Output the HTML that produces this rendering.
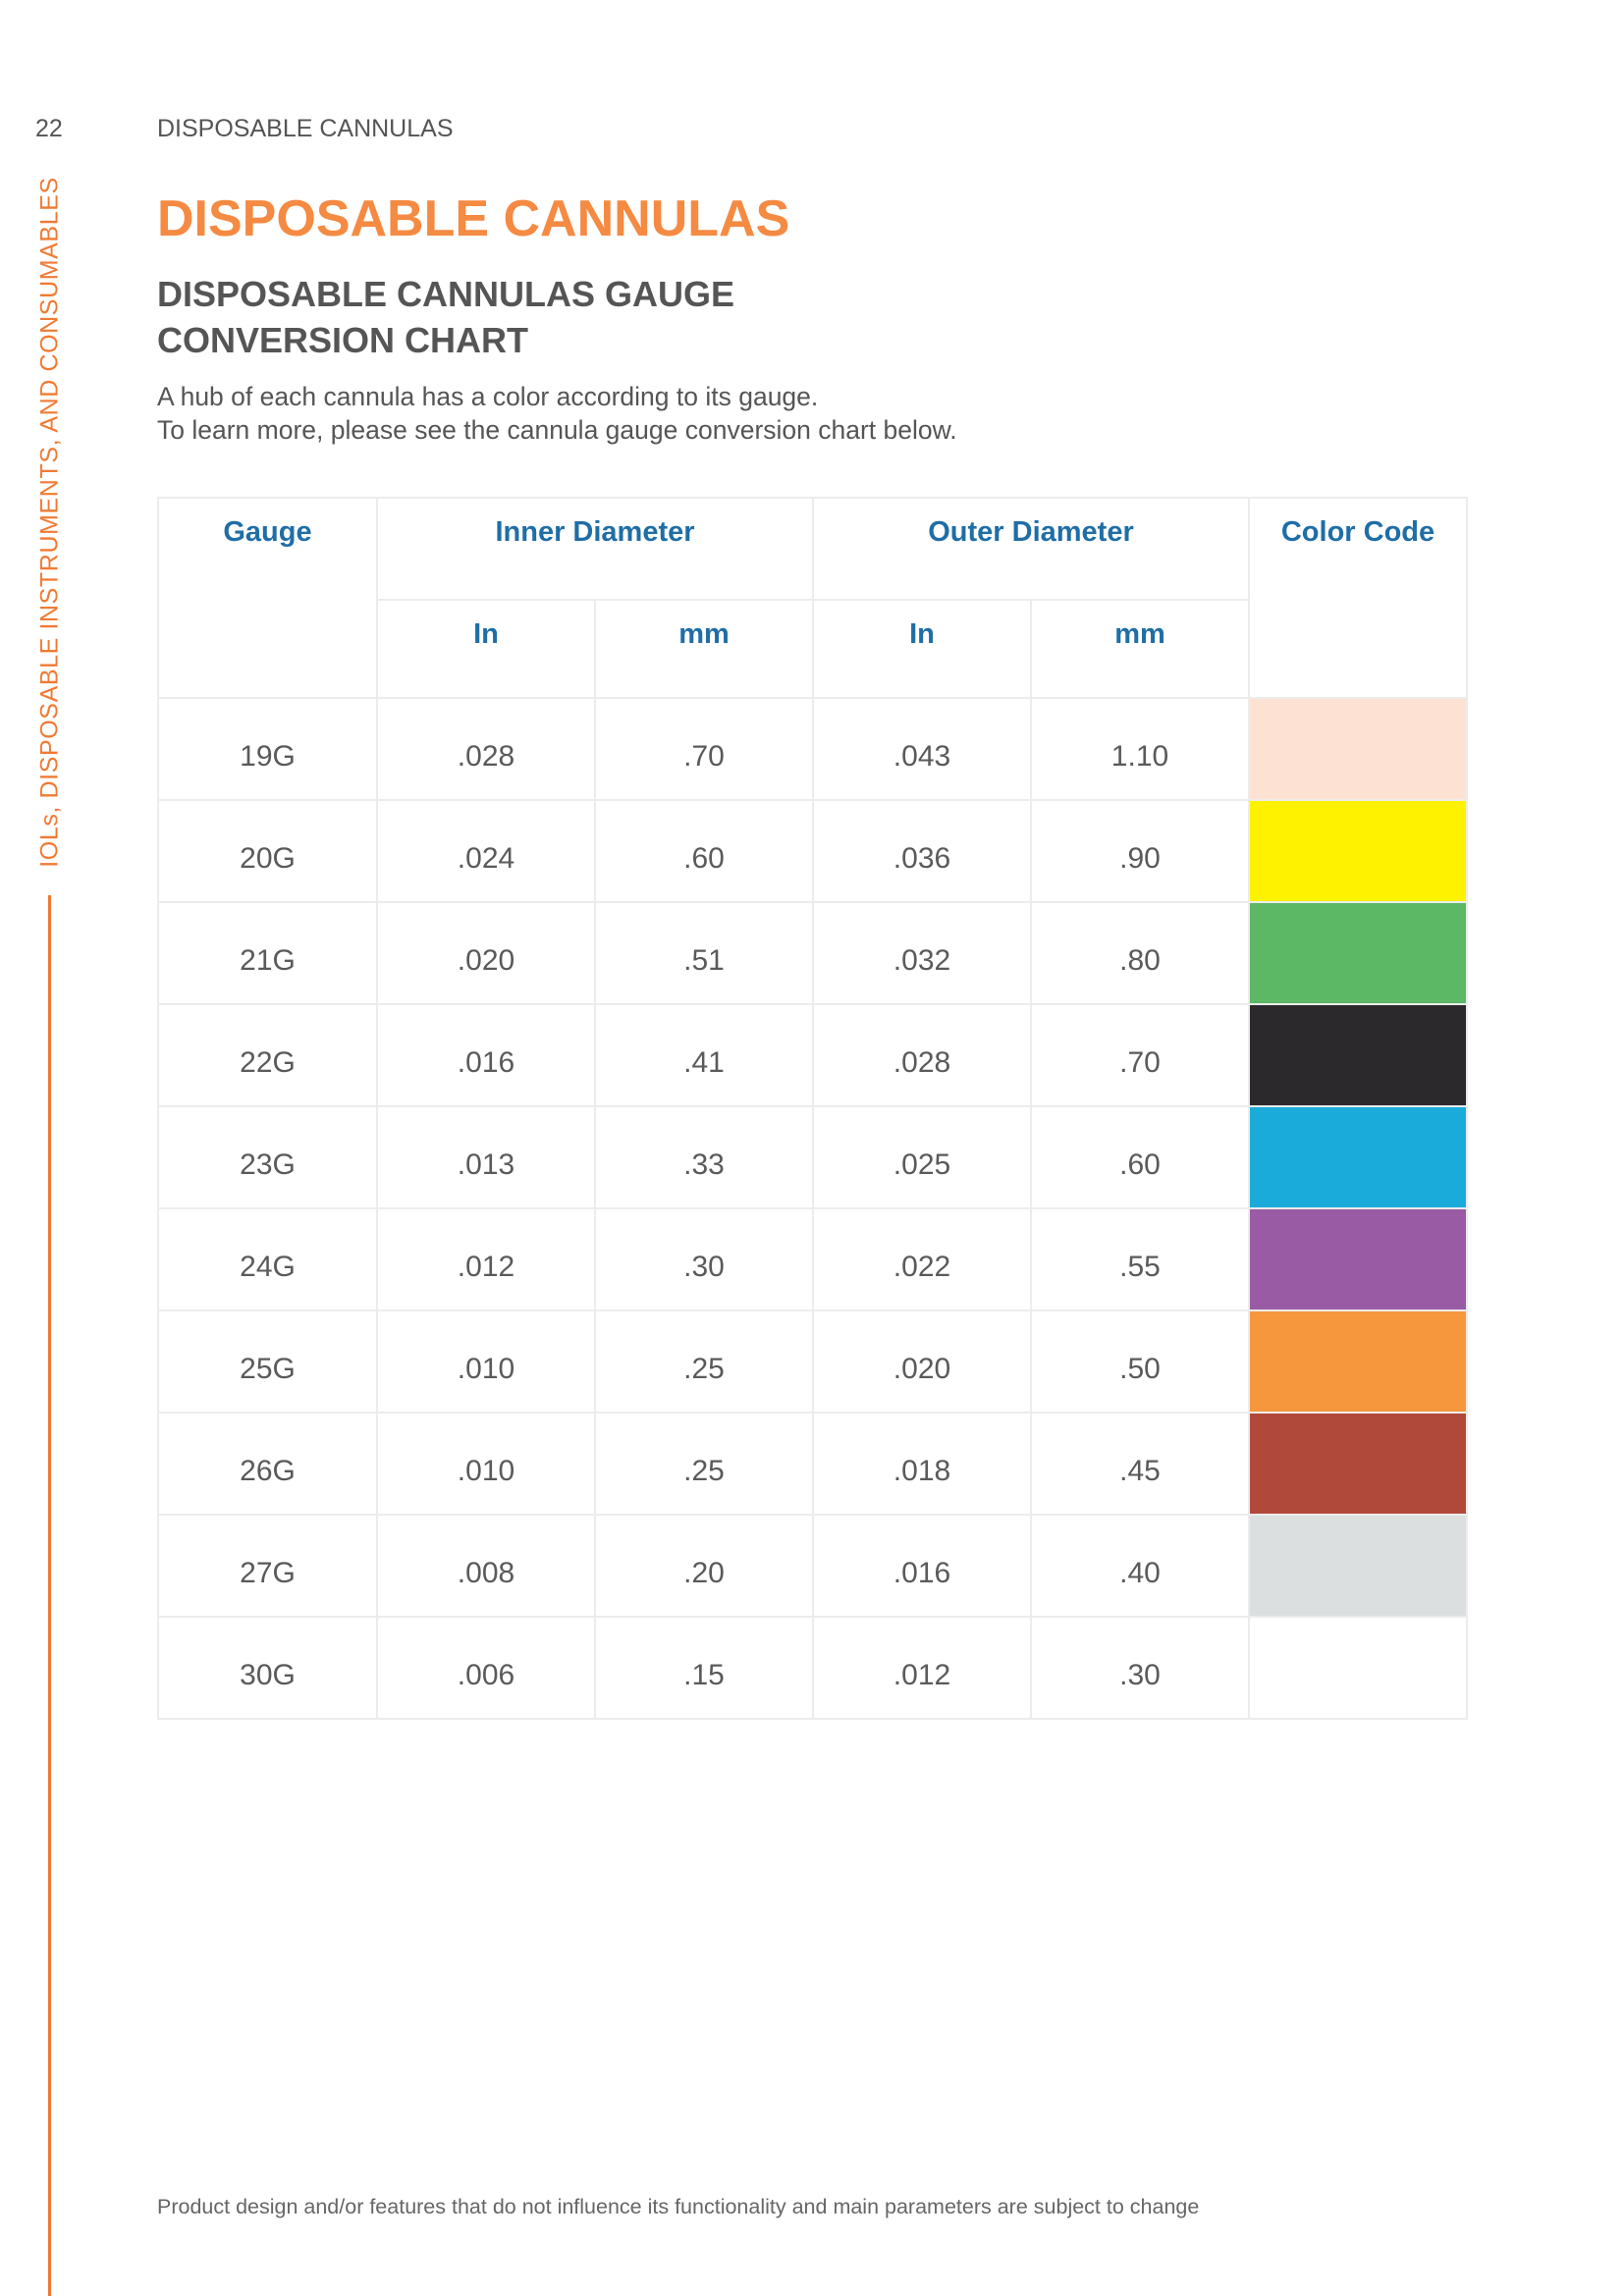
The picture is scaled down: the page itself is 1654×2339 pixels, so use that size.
<!DOCTYPE html>
<html><head><meta charset="utf-8"><style>
body{margin:0;width:1654px;height:2339px;background:#fff;position:relative;font-family:"Liberation Sans",sans-serif;overflow:hidden}
.a{position:absolute;white-space:nowrap}
table{position:absolute;left:160px;top:506px;border-collapse:collapse;table-layout:fixed}
td{border:2px solid #ececec;text-align:center;color:#5a5a5a;font-size:30px;padding:16px 0 0 0}
th{border:2px solid #ececec;color:#1f6ea6;font-size:29px;font-weight:bold;padding:0;vertical-align:top;padding-top:18px}
</style></head><body>
<div class="a" style="left:36px;top:117px;font-size:25px;color:#555">22</div>
<div class="a" style="left:160px;top:117px;font-size:25px;color:#555">DISPOSABLE CANNULAS</div>
<div class="a" style="left:160px;top:193px;font-size:52px;font-weight:bold;color:#f58a42">DISPOSABLE CANNULAS</div>
<div class="a" style="left:160px;top:276px;font-size:36px;font-weight:bold;color:#555;line-height:47px">DISPOSABLE CANNULAS GAUGE<br>CONVERSION CHART</div>
<div class="a" style="left:160px;top:387px;font-size:26.5px;color:#555;line-height:34px">A hub of each cannula has a color according to its gauge.<br>To learn more, please see the cannula gauge conversion chart below.</div>
<div class="a" style="left:51px;top:532px;transform:translate(-50%,-50%) rotate(-90deg);font-size:25px;color:#f07a33;letter-spacing:0.6px">IOLs, DISPOSABLE INSTRUMENTS, AND CONSUMABLES</div>
<div class="a" style="left:49px;top:912px;width:3px;height:1427px;background:#f07a33"></div>
<table>
<colgroup><col style="width:223px"><col style="width:222px"><col style="width:222px"><col style="width:222px"><col style="width:222px"><col style="width:222px"></colgroup>
<tr style="height:104px"><th rowspan="2">Gauge</th><th colspan="2">Inner Diameter</th><th colspan="2">Outer Diameter</th><th rowspan="2">Color Code</th></tr>
<tr style="height:100px"><th>In</th><th>mm</th><th>In</th><th>mm</th></tr>
<tr style="height:104px"><td>19G</td><td>.028</td><td>.70</td><td>.043</td><td>1.10</td><td style="background:#fde1d2"></td></tr>
<tr style="height:104px"><td>20G</td><td>.024</td><td>.60</td><td>.036</td><td>.90</td><td style="background:#fff200"></td></tr>
<tr style="height:104px"><td>21G</td><td>.020</td><td>.51</td><td>.032</td><td>.80</td><td style="background:#5cb865"></td></tr>
<tr style="height:104px"><td>22G</td><td>.016</td><td>.41</td><td>.028</td><td>.70</td><td style="background:#2b292b"></td></tr>
<tr style="height:104px"><td>23G</td><td>.013</td><td>.33</td><td>.025</td><td>.60</td><td style="background:#1aabdb"></td></tr>
<tr style="height:104px"><td>24G</td><td>.012</td><td>.30</td><td>.022</td><td>.55</td><td style="background:#9a5ba5"></td></tr>
<tr style="height:104px"><td>25G</td><td>.010</td><td>.25</td><td>.020</td><td>.50</td><td style="background:#f6973e"></td></tr>
<tr style="height:104px"><td>26G</td><td>.010</td><td>.25</td><td>.018</td><td>.45</td><td style="background:#b0493a"></td></tr>
<tr style="height:104px"><td>27G</td><td>.008</td><td>.20</td><td>.016</td><td>.40</td><td style="background:#dcdfe0"></td></tr>
<tr style="height:104px"><td>30G</td><td>.006</td><td>.15</td><td>.012</td><td>.30</td><td></td></tr>
</table>
<div class="a" style="left:160px;top:2236px;font-size:21.5px;color:#666">Product design and/or features that do not influence its functionality and main parameters are subject to change</div>
</body></html>
